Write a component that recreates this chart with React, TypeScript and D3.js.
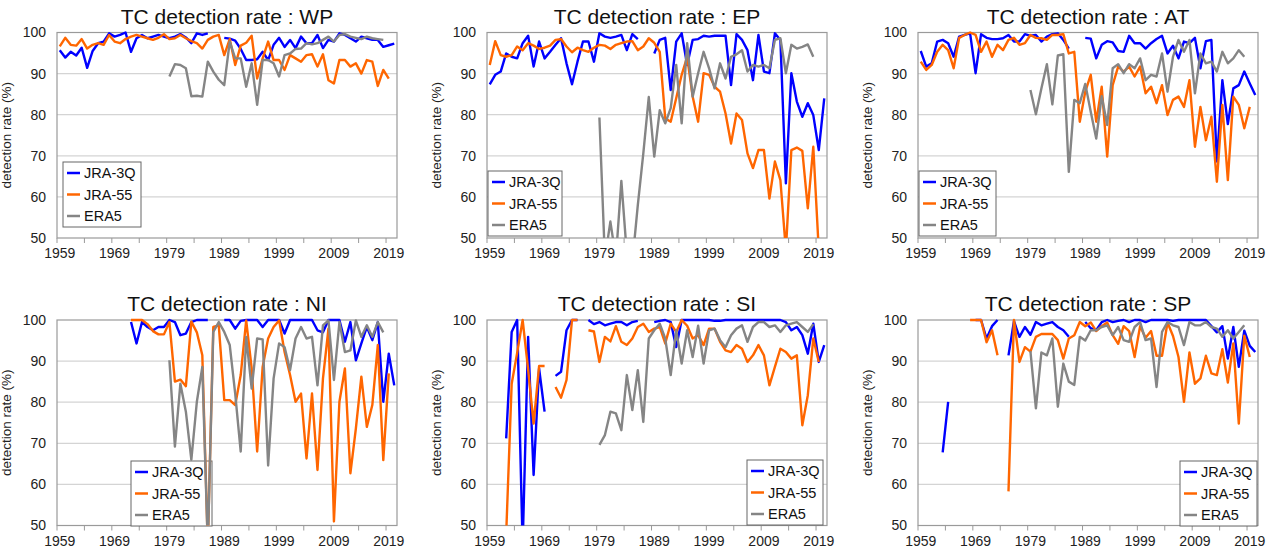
import React from 'react';
import * as d3 from 'd3';

type Val = number | null;
const N = null;

const years = d3.range(1959, 2021);
const seriesNames = ['JRA-3Q', 'JRA-55', 'ERA5'];
const seriesColors = ['#0000ff', '#ff6600', '#858585'];
const yTicks = [50, 60, 70, 80, 90, 100];
const xLabels = [1959, 1969, 1979, 1989, 1999, 2009, 2019];

// WP
const wp3Q: Val[] = [
  95.7, 93.9, 95.3, 94.4, 96.3, 91.4, 95.5, 97.4, 97.8, 99.8,
  99, 99.4, 100, 95.3, 98.6, 99.4, 98.6, 99, 99.4, 99,
  98.6, 99, 99.6, 98.8, 97.4, 99.8, 99.4, 99.8, N, N,
  98.7, 98.5, 98, 96, 93.3, 93.3, 93.5, 95.3, 93.3, 97,
  98.7, 96.5, 98.2, 96.2, 99, 97.4, 97.4, 99.4, 96.2, 98.2,
  97.8, 99.8, 99.4, 98.6, 97.8, 99, 98.6, 98.2, 98.2, 96.5,
  96.9, 97.3,
];
const wp55: Val[] = [
  96.6, 98.7, 97, 96.8, 98.4, 96.1, 97, 97.4, 97, 99.4,
  97.8, 97.4, 98.4, 99, 99.4, 99, 98.6, 98.2, 98.7, 99.6,
  98.4, 98.6, 99.4, 98.6, 97.9, 97.4, 96.1, 98.2, 99, 99.4,
  94.5, 98.4, 92.1, 96.8, 97.5, 99.2, 88.8, 93.7, 97.8, 93.3,
  93.3, 90.9, 94.5, 93.7, 92.9, 94.5, 94.7, 91.7, 94.7, 88.4,
  87.6, 93.3, 93.3, 91.7, 92.5, 90, 93.3, 92.9, 87, 90.9,
  88.8, N,
];
const wpE5: Val[] = [
  N, N, N, N, N, N, N, N, N, N,
  N, N, N, N, N, N, N, N, N, N,
  89.3, 92.3, 92.1, 91.3, 84.5, 84.6, 84.4, 92.9, 90.5, 88.5,
  87.2, 97.8, 93.7, 93.7, 86.8, 92.5, 82.4, 93.3, 93.3, 92.5,
  89.3, 94.5, 94.9, 96, 96.1, 97.4, 97.1, 97.4, 98.2, 99,
  97.8, 99.4, 99.6, 99, 98.7, 98.4, 99, 98.6, 98.4, 98.2,
  N, N,
];

// EP
const ep3Q: Val[] = [
  87.4, 89.7, 90.5, 94.9, 94.1, 93.7, 97.4, 99.2, 91.7, 97.8,
  93.7, 95.3, 97, 98.6, 92.5, 87.4, 92.9, 97.8, 97.8, 92.9,
  99.8, 99, 98.7, 99, 99.4, 95.7, 99.6, 98.4, N, N,
  94.9, 98.2, 98.7, 86, 97.8, 99.8, 92.1, 98.2, 98.4, 99.2,
  99, 99.2, 99.2, 99.2, 87.2, 99.6, 98.2, 95.7, 88.4, 99.4,
  90.5, 90.1, 99.8, 98.2, 63.3, 90.1, 83.2, 79.5, 82.8, 79.9,
  71.4, 84,
];
const ep55: Val[] = [
  92.1, 97.9, 94.5, 94.1, 94.5, 96.6, 95.7, 97.4, 96.8, 96,
  96.3, 96.8, 98.2, 98.4, 96.6, 95.2, 96.3, 95.7, 95.3, 96.3,
  97, 96.8, 96, 97, 97.4, 97.8, 97.9, 95.7, 96.6, 98.6,
  97.5, 95.3, 79.1, 78.3, 84, 89.7, 94.1, 84.4, 78.3, 90.1,
  89.7, 86.8, 85.6, 80.3, 73, 80.3, 78.7, 70.6, 67, 71.4,
  71.4, 59.6, 68.6, 64.1, 47, 71.4, 72, 71.2, 57.2, 72.2,
  47, N,
];
const epE5: Val[] = [
  N, N, N, N, N, N, N, N, N, N,
  N, N, N, N, N, N, N, N, N, N,
  79.3, 45, 54, 45, 63.9, 46, 44, 58, 70.5, 84.3,
  69.8, 81.1, 77.9, 81.6, 92.1, 77.9, 97.4, 84.4, 90.1, 95.3,
  91.3, 86.4, 92.5, 88.8, 94.1, 94.7, 95.7, 90.5, 92.1, 91.7,
  92.1, 91.3, 98.2, 98.6, 90.1, 97, 96.1, 96.5, 97.1, 94.1,
  N, N,
];

// AT
const at3Q: Val[] = [
  95.5, 91.7, 92.5, 97.8, 98.2, 97.4, 94.1, 99, 99.4, 99.8,
  90.1, 99.6, 98.7, 98.4, 98.4, 98.6, 99.4, 97.8, 97.8, 99.6,
  99.2, 99.4, 97.8, 99, 99.6, 99.8, 98.2, 96.1, N, N,
  98.7, 98.5, 93.7, 97, 97.9, 97.6, 95.5, 95.3, 99.2, 97.4,
  97.4, 96.1, 97.4, 98.4, 99.2, 94.9, 96.8, 93.7, 97.8, 97.4,
  98.7, 91.3, 97.9, 98.2, 68.6, 88.4, 77.7, 86.4, 87.2, 90.5,
  87.6, 84.8,
];
const at55: Val[] = [
  92.9, 90.9, 92.1, 95.3, 97, 95.7, 91.3, 98.7, 99.4, 100,
  99.4, 95.3, 97.8, 94.1, 97, 95.7, 98.2, 98.7, 97, 97.4,
  99.4, 98.7, 98.6, 98.2, 99.4, 99.4, 99.6, 94.9, 95.3, 78.3,
  85.6, 89.7, 78.3, 86.8, 69.8, 87.2, 91.7, 90.5, 91.7, 89.3,
  91.7, 85.2, 86.8, 82.8, 87.2, 79.9, 83.6, 84.4, 81.9, 88.4,
  72.2, 81.9, 73.8, 79.5, 63.7, 82.4, 64.1, 84.4, 82.4, 76.7,
  81.9, N,
];
const atE5: Val[] = [
  N, N, N, N, N, N, N, N, N, N,
  N, N, N, N, N, N, N, N, N, N,
  86, 80.1, 86.4, 92.3, 82.5, 94.4, 94.7, 66.1, 83.6, 82.8,
  87.5, 80.7, 74.2, 84.5, 77.5, 91.3, 92.3, 90.1, 92.3, 91.3,
  93.7, 88.4, 89.7, 89.3, 94.9, 85.6, 94.1, 98.2, 95.3, 98.2,
  85.2, 94.9, 92.5, 92.9, 90.5, 95.3, 92.5, 93.7, 95.7, 94.1,
  N, N,
];

// NI
const ni3Q: Val[] = [
  N, N, N, N, N, N, N, N, N, N,
  N, N, N, 99.5, 94.3, 99.5, 98.3, 97.5, 98.3, 98.3,
  100, 99.5, 96.3, 96.7, 99.5, 100, 100, 100, N, N,
  100, 100, 97.9, 99.8, 100, 100, 100, 98.3, 100, 100,
  100, 96.7, 100, 100, 100, 100, 100, 97.5, 97, 100,
  100, 100, 94.7, 99.5, 90.2, 94.3, 98.3, 95.1, 99.5, 80.1,
  91.8, 84.1,
];
const ni55: Val[] = [
  N, N, N, N, N, N, N, N, N, N,
  N, N, N, 100, 100, 100, 99, 97.3, 96.5, 96.5,
  99.5, 85, 85.5, 83.9, 99.6, 97, 91.4, 45, 98.3, 98.7,
  80.5, 80.5, 79.3, 86.6, 99.9, 88.2, 68, 88.6, 95.5, 98.3,
  99.9, 92.2, 86.6, 80.1, 82.1, 66.3, 82.1, 63.5, 85.8, 97.9,
  51, 80.1, 88.2, 62.7, 73.6, 86.2, 74, 79.3, 93.9, 65.9,
  87, N,
];
const niE5: Val[] = [
  N, N, N, N, N, N, N, N, N, N,
  N, N, N, N, N, N, N, N, N, N,
  90.2, 69.2, 84.5, 77.7, 66, 80.1, 88.6, 45, 97.1, 99.5,
  97.1, 93.9, 82, 68, 95.9, 83.3, 95.5, 95.3, 64.6, 85.8,
  94.3, 93.4, 87.8, 95.5, 98.3, 95.5, 95.9, 84.1, 98.7, 99.9,
  85.4, 99.5, 92.2, 92.6, 99.9, 95.9, 98.7, 95.9, 99.5, 97,
  N, N,
];

// SI
const si3Q: Val[] = [
  N, N, N, 71.2, 97.1, 100, 45, 95.9, 62.3, 88.2,
  77.7, N, 86.4, 87.4, 97.5, 100, 100, N, 100, 99,
  99.5, 98.7, 99.1, 99.5, 99.5, 98.7, 99.5, 99.8, N, N,
  99.5, 99.8, 100, 99.5, 93.4, 100, 100, 100, 100, 100,
  100, 99.8, 99.8, 100, 100, 100, 100, 100, 100, 100,
  100, 100, 100, 100, 99.5, 97.5, 98.3, 96.3, 91.8, 99.1,
  89.8, 93.9,
];
const si55: Val[] = [
  N, N, N, 48, 84.5, 92, 100, 88, 74.8, 88.8,
  88.8, N, 83.7, 81.1, 85.4, 100, 100, N, 97.5, 97.2,
  89.8, 95.9, 94.8, 98.5, 94.7, 93.9, 95.5, 98.3, 99.1, 97.1,
  97.9, 98.3, 94.3, 99.1, 97.1, 100, 98.6, 95.5, 96.3, 93.9,
  97.9, 97.9, 94.7, 92.6, 92.2, 93.9, 93, 89.8, 91.4, 93.9,
  91.4, 84.1, 88.6, 93, 92.2, 90.6, 91.4, 74.4, 81.7, 95.5,
  89.8, N,
];
const siE5: Val[] = [
  N, N, N, N, N, N, N, N, N, N,
  N, N, N, N, N, N, N, N, N, N,
  69.6, 72, 77.7, 77.3, 73.2, 86.6, 78.1, 87.8, 75.2, 95.5,
  97.5, 99.1, 95.5, 86.6, 97.5, 89.4, 97.5, 91, 98.6, 89.4,
  97.5, 97.9, 95.1, 93.4, 96.3, 97.9, 98.7, 94.7, 98.3, 99.5,
  99.5, 98.3, 98.7, 97.1, 98.7, 99.1, 99.5, 98.3, 97.1, 99,
  N, N,
];

// SP
const sp3Q: Val[] = [
  N, N, N, N, 67.8, 80.1, N, N, N, N,
  100, 100, 95.5, 98.5, 100, N, 91.4, 99.7, 95.9, 98.3,
  96.4, 99.5, 98.7, 99.1, 99.5, 98.3, 97.5, 95.9, N, N,
  99.5, 98, 97.5, 99.5, 100, 99.5, 99.8, 100, 99.5, 100,
  100, 99.5, 100, 100, 100, 100, 99.8, 100, 100, 100,
  100, 100, 100, 98.5, 97, 98.5, 90.6, 98.3, 88.6, 97.4,
  93.7, 92.2,
];
const sp55: Val[] = [
  N, N, N, N, N, N, N, N, N, 100,
  100, 100, 94.6, 97.5, 91.4, N, 58.3, 100, 89.8, 93.4,
  92.3, 95.9, 96.6, 96.6, 96.6, 95.1, 90.6, 95.5, 96.3, 99.5,
  98.5, 99.4, 97.3, 98.5, 99.4, 96.3, 94.2, 98.5, 97.3, 91,
  98.5, 95.7, 97.3, 91.3, 91.3, 99.4, 96.1, 91, 80.1, 92.1,
  84.5, 85.8, 91.3, 87, 86.6, 92.9, 84.8, 94.3, 74.8, 96.2,
  91, N,
];
const spE5: Val[] = [
  N, N, N, N, N, N, N, N, N, N,
  N, N, N, N, N, N, N, N, N, N,
  92.4, 78.5, 92.1, 91.4, 95.5, 78.9, 89.4, 85, 84.2, 95.9,
  95, 97.5, 97.5, 98.3, 98.7, 96.3, 98.3, 95.1, 94.7, 98.3,
  99.5, 95.1, 95.5, 83.7, 97.1, 99.5, 98.7, 98.3, 93.9, 99.5,
  98.7, 98.7, 99.5, 98.3, 97.9, 95.9, 97.5, 95.5, 97.1, 98.7,
  N, N,
];

const colLeft = [57, 487, 918];
const rowTop = [32.5, 320];
const plotW = 340;
const plotH = 205.5;
const font = '"Liberation Sans", Arial, Helvetica, sans-serif';

const panels = [
  { key: 'WP', col: 0, row: 0, data: [wp3Q, wp55, wpE5], lg: { dx: 6, dy: 129.5, w: 78 } },
  { key: 'EP', col: 1, row: 0, data: [ep3Q, ep55, epE5], lg: { dx: 1, dy: 138.5, w: 74 } },
  { key: 'AT', col: 2, row: 0, data: [at3Q, at55, atE5], lg: { dx: 1, dy: 138.5, w: 77 } },
  { key: 'NI', col: 0, row: 1, data: [ni3Q, ni55, niE5], lg: { dx: 74, dy: 141, w: 81 } },
  { key: 'SI', col: 1, row: 1, data: [si3Q, si55, siE5], lg: { dx: 260, dy: 140, w: 76 } },
  { key: 'SP', col: 2, row: 1, data: [sp3Q, sp55, spE5], lg: { dx: 262, dy: 141, w: 77 } },
];

function Panel({ p }: { p: typeof panels[number] }) {
  const left = colLeft[p.col];
  const top = rowTop[p.row];
  const x = d3.scaleLinear().domain([1958.5, 2020.5]).range([left, left + plotW]);
  const y = d3.scaleLinear().domain([50, 100]).range([top + plotH, top]);
  const line = d3.line<Val>()
    .defined((d) => d != null)
    .x((_, i) => x(years[i]))
    .y((d) => y(d as number));
  const tickYears = d3.range(1958.5, 2020, 5);
  const clipId = 'clip-' + p.key;
  return (
    <g>
      <defs>
        <clipPath id={clipId}>
          <rect x={left} y={top - 3} width={plotW} height={plotH + 3} />
        </clipPath>
      </defs>
      <text x={left + plotW / 2} y={top - 9} textAnchor="middle" fontSize={21} fontFamily={font} fill="#111">
        {'TC detection rate : ' + p.key}
      </text>
      {yTicks.slice(1, -1).map((t) => (
        <line key={t} x1={left} x2={left + plotW} y1={y(t)} y2={y(t)} stroke="#d4d4d4" strokeWidth={1.3} />
      ))}
      {yTicks.map((t) => (
        <text key={'yl' + t} x={left - 11} y={y(t)} dy="0.35em" textAnchor="end" fontSize={14} fontFamily={font} fill="#222">
          {t}
        </text>
      ))}
      <text
        transform={`translate(${left - 46},${top + plotH / 2}) rotate(-90)`}
        textAnchor="middle"
        fontSize={13.5}
        fontFamily={font}
        fill="#222"
      >
        detection rate (%)
      </text>
      {tickYears.map((t) => (
        <line key={'xt' + t} x1={x(t)} x2={x(t)} y1={top + plotH} y2={top + plotH + 5} stroke="#999" strokeWidth={1} />
      ))}
      {xLabels.map((t) => (
        <text key={'xl' + t} x={x(t)} y={top + plotH + 20} textAnchor="middle" fontSize={14} fontFamily={font} fill="#222">
          {t}
        </text>
      ))}
      <rect x={left} y={top} width={plotW} height={plotH} fill="none" stroke="#9a9a9a" strokeWidth={1.2} />
      <g>
        <rect x={left + p.lg.dx} y={top + p.lg.dy} width={p.lg.w} height={65} fill="#fff" stroke="#666" strokeWidth={1} />
        {seriesNames.map((s, i) => (
          <g key={s}>
            <line
              x1={left + p.lg.dx + 4}
              x2={left + p.lg.dx + 17}
              y1={top + p.lg.dy + 11 + i * 21.5}
              y2={top + p.lg.dy + 11 + i * 21.5}
              stroke={seriesColors[i]}
              strokeWidth={2.5}
            />
            <text x={left + p.lg.dx + 21} y={top + p.lg.dy + 11 + i * 21.5} dy="0.35em" fontSize={14.5} fontFamily={font} fill="#111">
              {s}
            </text>
          </g>
        ))}
      </g>
      <g clipPath={`url(#${clipId})`}>
        {p.data.map((vals, i) => (
          <path key={i} d={line(vals) || ''} fill="none" stroke={seriesColors[i]} strokeWidth={2.4} strokeLinejoin="round" />
        ))}
      </g>
    </g>
  );
}

export default function App() {
  return (
    <svg width={1279} height={551} style={{ position: 'absolute', left: 0, top: 0, background: '#fff' }}>
      {panels.map((p) => (
        <Panel key={p.key} p={p} />
      ))}
    </svg>
  );
}
